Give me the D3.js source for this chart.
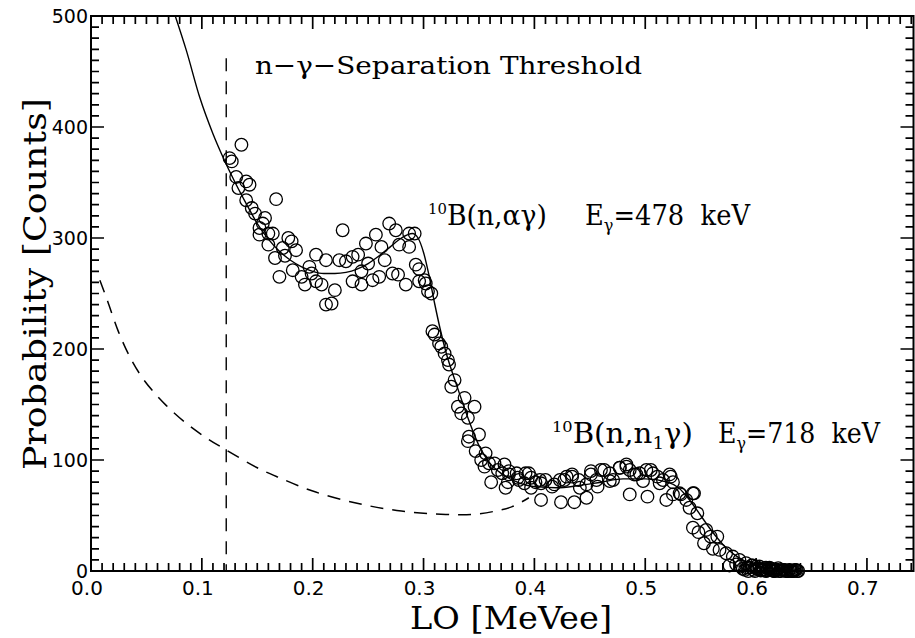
<!DOCTYPE html>
<html>
<head>
<meta charset="utf-8">
<script src="https://cdn.jsdelivr.net/npm/d3@7"></script>
<style>
  html, body { margin: 0; padding: 0; background: #fff; }
  svg { display: block; }
</style>
</head>
<body>
<svg id="chart" width="915" height="638"></svg>
<script>
// ---------------- data ----------------
const xMajorTicks = [0.0, 0.1, 0.2, 0.3, 0.4, 0.5, 0.6, 0.7];
const yMajorTicks = [0, 100, 200, 300, 400, 500];
const thresholdLO = 0.122;
const thresholdTop = 462;

// measured points: [LO (MeVee), counts]
const dataLO = [
  0.125,0.127,0.131,0.133,0.1357,0.140,0.143,0.140,0.145,0.148,0.155,0.152,0.160,0.152,0.164,0.160,0.167,0.178,0.181,0.185,
  0.173,0.166,0.170,0.182,0.190,0.193,0.197,0.203,0.212,0.203,0.208,0.220,0.212,0.217,0.227,0.224,0.230,0.236,0.241,0.236,
  0.244,0.248,0.244,0.254,0.257,0.262,0.265,0.260,0.269,0.275,0.278,0.287,0.287,0.292,0.272,0.277,0.284,0.293,0.296,0.302,
  0.304,0.307,0.301,0.296,0.157,0.175,0.199,0.250,
  0.308,0.310,0.314,0.316,0.319,0.322,0.323,0.328,0.325,0.337,0.331,0.346,0.334,0.340,0.341,0.350,0.340,0.347,0.356,0.352,
  0.359,0.364,0.355,0.367,0.361,0.371,0.376,0.377,0.384,0.386,0.392,0.397,0.401,0.406,0.410,0.418,0.423,0.429,0.434,0.440,
  0.447,0.451,0.456,0.460,0.468,0.471,0.477,0.483,0.486,0.490,0.495,0.501,0.507,0.511,0.516,0.522,0.525,0.531,0.543,
  0.373,0.377,0.374,0.385,0.391,0.395,0.397,0.405,0.406,0.416,0.424,0.427,0.434,0.436,0.441,0.447,0.451,0.457,0.463,0.468,
  0.477,0.483,0.486,0.492,0.498,0.502,0.505,0.513,0.523,0.519,0.525,0.532,0.537,0.544,0.540,0.547,0.543,0.548,0.555,0.559,
  0.553,0.565,0.561,0.567,0.573,0.579,0.585,0.576,0.591,0.597,0.603,0.609,
  0.582,0.588,0.590,0.594,0.598,0.601,0.604,0.607,0.610,0.613,0.616,0.619,0.622,0.625,0.628,0.631,0.634,0.637,0.600,0.612,
  0.620,0.596,0.626,0.632,0.615,0.586,0.592,0.599,0.603,0.606,0.609,0.614,0.618,0.621,0.624,0.627,0.630,0.633,0.636,0.638,
  0.593,0.605,0.611,0.617,0.623,0.629,0.635
];
const dataCounts = [
  372,369,355,345,384,351,348,334,327,322,313,309,304,303,304,294,335,300,297,289,
  291,282,265,271,265,258,274,285,280,261,258,253,240,241,307,280,279,283,285,261,
  258,295,270,262,303,292,280,265,313,307,294,292,304,304,268,267,258,276,261,259,
  252,250,262,272,318,284,268,277,
  216,213,205,202,196,190,186,172,166,156,148,148,142,138,121,123,117,108,106,100,
  97,97,94,91,80,88,80,87,88,82,88,84,80,79,82,78,82,85,87,82,
  78,87,82,91,88,82,93,96,91,87,88,91,88,85,82,87,80,70,70,
  96,90,75,84,79,88,75,82,64,76,62,82,85,62,75,66,90,76,91,81,
  93,94,69,87,81,67,91,79,85,64,69,69,64,70,57,52,39,35,37,31,
  25,31,20,19,16,13,10,5,7,5,4,3,
  6,2,1,3,1,2,0.5,1.5,0.5,1,0,1,0,0.5,0,0.5,0,0,4,3,
  2.5,5,1,0,0.5,4,3,0,2,1,0,2,1,0,1,0,1,0,1,0,
  0,1,2,0,1,0,1
];

// fitted total response (solid)
const fitLO = [0.076,0.086,0.098,0.110,0.119,0.130,0.140,0.150,0.160,0.170,0.180,0.190,0.200,0.210,0.220,0.230,0.240,0.250,
  0.260,0.270,0.280,0.290,0.295,0.300,0.305,0.310,0.315,0.320,0.330,0.340,0.350,0.360,0.370,0.380,0.390,0.400,0.420,0.440,
  0.460,0.480,0.500,0.520,0.530,0.540,0.550,0.560,0.570,0.580,0.590,0.600,0.610,0.620,0.630,0.640];
const fitCounts = [500,469,427,394,373,350,331,313,299,288,280,274,270,268,268,269,272,277,
  284,292,300,304,300,287,266,241,218,198,167,138,113,97,88,82,78,76,75,77,
  80,83,83,80,75,64,50,36,24,15,9,5,3,1.5,0.7,0.3];

// neutron background (dashed)
const bgLO = [0.008,0.015,0.025,0.035,0.045,0.055,0.068,0.086,0.104,0.122,0.150,0.170,0.200,0.240,0.280,0.320,0.345,0.365,0.380,0.395];
const bgCounts = [262,243,215,193,176,163,149,133,120,109,93,84,72,61,54,51,51,54,58,66];

// ---------------- layout ----------------
const svg = d3.select("#chart");
svg.append("rect").attr("width", 915).attr("height", 638).attr("fill", "#fff");

const xMax = 0.742;
const x = d3.scaleLinear().domain([0, xMax]).range([91, 913.5]);
const y = d3.scaleLinear().domain([0, 500]).range([571, 16]);

const serif = "'DejaVu Serif', 'Liberation Serif', serif";
const sans = "'DejaVu Sans', Arial, sans-serif";

const xMinor = d3.range(1, 75).filter(i => i % 10 !== 0).map(i => i / 100);
const yMinor = d3.range(1, 50).filter(i => i % 10 !== 0).map(i => i * 10);

// clip
svg.append("clipPath").attr("id", "plotclip").append("rect")
  .attr("x", x(0)).attr("y", y(500)).attr("width", x(xMax) - x(0)).attr("height", y(0) - y(500) + 8);

const plot = svg.append("g").attr("clip-path", "url(#plotclip)");

// threshold line
plot.append("line")
  .attr("x1", x(thresholdLO)).attr("x2", x(thresholdLO))
  .attr("y1", y(thresholdTop)).attr("y2", y(0))
  .attr("stroke", "#000").attr("stroke-width", 1.4).attr("stroke-dasharray", "13,10");

// background dashed curve
const smooth = d3.line().x(d => x(d[0])).y(d => y(d[1])).curve(d3.curveCatmullRom.alpha(0.5));
const mono = d3.line().x(d => x(d[0])).y(d => y(d[1])).curve(d3.curveMonotoneX);
plot.append("path")
  .datum(bgLO.map((v, i) => [v, bgCounts[i]]))
  .attr("d", smooth).attr("fill", "none").attr("stroke", "#000")
  .attr("stroke-width", 1.5).attr("stroke-dasharray", "13,9");

// data circles
plot.append("g").selectAll("circle")
  .data(dataLO.map((v, i) => [v, dataCounts[i]]))
  .join("circle")
  .attr("cx", d => x(d[0])).attr("cy", d => y(d[1])).attr("r", 6.3)
  .attr("fill", "none").attr("stroke", "#000").attr("stroke-width", 1.3);

// fit curve
plot.append("path")
  .datum(fitLO.map((v, i) => [v, fitCounts[i]]))
  .attr("d", mono).attr("fill", "none").attr("stroke", "#000").attr("stroke-width", 1.4);

// ---------------- ticks (inward, all four sides) ----------------
const xTickSpecs = xMinor.map(v => [v, 8]).concat(xMajorTicks.map(v => [v, 13]));
const yTickSpecs = yMinor.map(v => [v, 8]).concat(yMajorTicks.map(v => [v, 13]));
const tp = d3.path();
xTickSpecs.forEach(([v, len]) => {
  const px = x(v);
  tp.moveTo(px, y(0)); tp.lineTo(px, y(0) - len);
  tp.moveTo(px, y(500)); tp.lineTo(px, y(500) + len);
});
yTickSpecs.forEach(([v, len]) => {
  const py = y(v);
  tp.moveTo(x(0), py); tp.lineTo(x(0) + len, py);
  tp.moveTo(x(xMax), py); tp.lineTo(x(xMax) - len, py);
});
svg.append("path").attr("d", tp.toString())
  .attr("fill", "none").attr("stroke", "#000").attr("stroke-width", 1.7);

// frame
svg.append("rect")
  .attr("x", x(0)).attr("y", y(500))
  .attr("width", x(xMax) - x(0)).attr("height", y(0) - y(500))
  .attr("fill", "none").attr("stroke", "#000").attr("stroke-width", 2);

// tick labels
svg.append("g").selectAll("text").data(xMajorTicks).join("text")
  .attr("x", d => x(d) - 4).attr("y", y(0) + 24)
  .attr("text-anchor", "middle")
  .attr("font-family", sans).attr("font-size", 20).attr("fill", "#000")
  .text(d3.format(".1f"));
svg.append("g").selectAll("text").data(yMajorTicks).join("text")
  .attr("x", x(0) - 3).attr("y", d => y(d) + 7)
  .attr("text-anchor", "end")
  .attr("font-family", sans).attr("font-size", 19).attr("fill", "#000")
  .text(d3.format("d"));

// ---------------- texts ----------------
svg.append("text")
  .attr("x", 255).attr("y", 74)
  .attr("font-family", serif).attr("font-size", 25).attr("fill", "#000")
  .attr("textLength", 387).attr("lengthAdjust", "spacingAndGlyphs")
  .text("n\u2212\u03b3\u2212Separation Threshold");

function reaction(xStart, baseline, inner, width1, eX, energy, width2) {
  const t = svg.append("text").attr("x", xStart).attr("y", baseline)
    .attr("font-family", serif).attr("font-size", 27).attr("fill", "#000")
    .attr("textLength", width1).attr("lengthAdjust", "spacingAndGlyphs");
  t.append("tspan").attr("font-size", 15).attr("dy", -11).text("10");
  t.append("tspan").attr("dy", 11).text("B(n,");
  inner(t);
  t.append("tspan").text(")");
  const e = svg.append("text").attr("x", eX).attr("y", baseline)
    .attr("font-family", serif).attr("font-size", 27).attr("fill", "#000")
    .attr("textLength", width2).attr("lengthAdjust", "spacingAndGlyphs");
  e.append("tspan").text("E");
  e.append("tspan").attr("font-size", 17).attr("dy", 6).text("\u03b3");
  e.append("tspan").attr("dy", -6).text("=" + energy + "\u00a0\u00a0keV");
}
reaction(428, 225, t => t.append("tspan").text("\u03b1\u03b3"), 119, 585, "478", 165);
reaction(552, 443, t => {
  t.append("tspan").text("n");
  t.append("tspan").attr("font-size", 17).attr("dy", 6).text("1");
  t.append("tspan").attr("dy", -6).text("\u03b3");
}, 141, 718, "718", 162);

// axis titles
svg.append("text")
  .attr("x", 410).attr("y", 629)
  .attr("font-family", serif).attr("font-size", 31).attr("fill", "#000")
  .attr("textLength", 202).attr("lengthAdjust", "spacingAndGlyphs")
  .text("LO [MeVee]");

svg.append("text")
  .attr("transform", "translate(46,470) rotate(-90)")
  .attr("font-family", serif).attr("font-size", 31).attr("fill", "#000")
  .attr("textLength", 372).attr("lengthAdjust", "spacingAndGlyphs")
  .text("Probability [Counts]");
</script>
</body>
</html>
